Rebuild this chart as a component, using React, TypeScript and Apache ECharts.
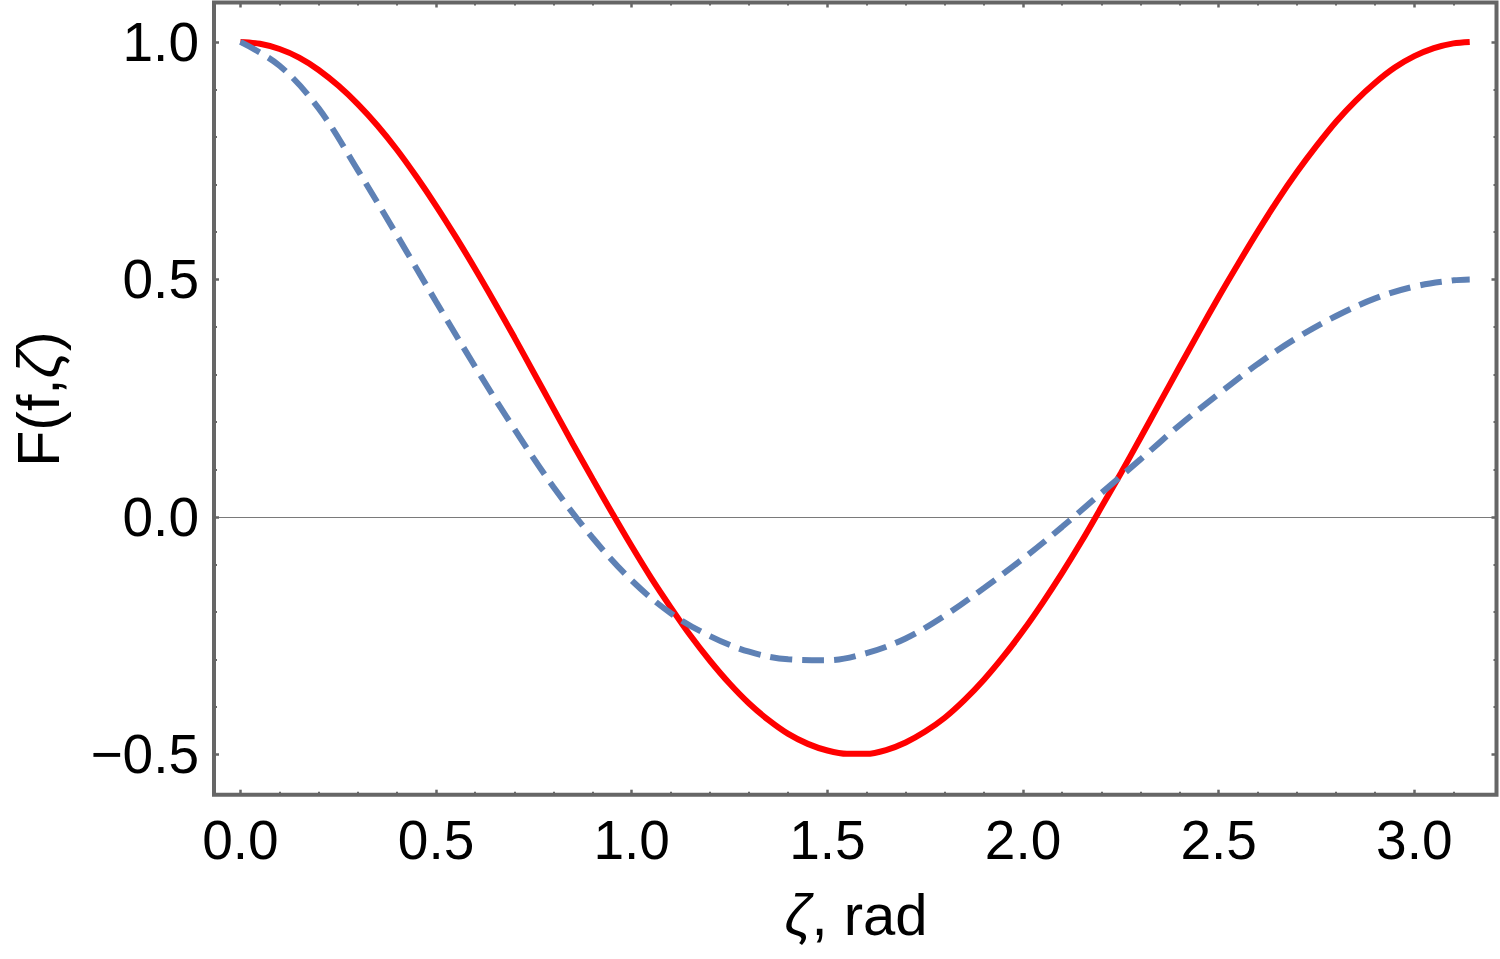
import React, { useEffect, useRef } from "react";
import * as echarts from "echarts";

// ζ sample positions (rad) for the red solid curve
const zetaRed = [
  0, 0.05, 0.1, 0.15, 0.2, 0.25, 0.3, 0.35, 0.4, 0.45, 0.5, 0.55, 0.6, 0.65, 0.7,
  0.75, 0.8, 0.85, 0.9, 0.95, 1.0, 1.05, 1.1, 1.15, 1.2, 1.25, 1.3, 1.35, 1.4,
  1.45, 1.5, 1.55, 1.6, 1.65, 1.7, 1.75, 1.8, 1.85, 1.9, 1.95, 2.0, 2.05, 2.1,
  2.15, 2.2, 2.25, 2.3, 2.35, 2.4, 2.45, 2.5, 2.55, 2.6, 2.65, 2.7, 2.75, 2.8,
  2.85, 2.9, 2.95, 3.0, 3.05, 3.1, 3.1416,
];

// red solid curve values
const redValues = [
  1.0, 0.996, 0.985, 0.967, 0.941, 0.908, 0.869, 0.824, 0.773, 0.716, 0.655,
  0.59, 0.522, 0.451, 0.378, 0.303, 0.228, 0.153, 0.08, 0.008, -0.062, -0.129,
  -0.191, -0.25, -0.303, -0.351, -0.393, -0.428, -0.457, -0.478, -0.492, -0.499,
  -0.499, -0.491, -0.475, -0.452, -0.423, -0.386, -0.343, -0.294, -0.24, -0.181,
  -0.118, -0.051, 0.02, 0.092, 0.166, 0.241, 0.316, 0.39, 0.463, 0.533, 0.601,
  0.666, 0.726, 0.781, 0.832, 0.876, 0.914, 0.946, 0.97, 0.987, 0.997, 1.0,
];

// ζ sample positions (rad) for the blue dashed curve
const zetaBlue = [
  0, 0.1, 0.2, 0.3, 0.4, 0.5, 0.6, 0.7, 0.8, 0.9, 1.0, 1.1, 1.2, 1.3, 1.4, 1.5,
  1.6, 1.7, 1.8, 1.9, 2.0, 2.1, 2.2, 2.3, 2.4, 2.5, 2.6, 2.7, 2.8, 2.9, 3.0, 3.1,
  3.1416,
];

// blue dashed curve values
const blueValues = [
  1.0, 0.95, 0.86, 0.73, 0.593, 0.453, 0.316, 0.185, 0.063, -0.044, -0.134,
  -0.203, -0.251, -0.284, -0.3, -0.302, -0.287, -0.256, -0.208, -0.15, -0.088,
  -0.021, 0.05, 0.121, 0.193, 0.259, 0.322, 0.377, 0.423, 0.46, 0.485, 0.498, 0.5,
];

const xMajorTicks = [0, 0.5, 1.0, 1.5, 2.0, 2.5, 3.0];
const xMinorTicks = [
  0.1, 0.2, 0.3, 0.4, 0.6, 0.7, 0.8, 0.9, 1.1, 1.2, 1.3, 1.4, 1.6, 1.7, 1.8, 1.9,
  2.1, 2.2, 2.3, 2.4, 2.6, 2.7, 2.8, 2.9, 3.1,
];
const yMajorTicks = [-0.5, 0, 0.5, 1.0];
const yMinorTicks = [
  -0.4, -0.3, -0.2, -0.1, 0.1, 0.2, 0.3, 0.4, 0.6, 0.7, 0.8, 0.9,
];
const zeroLine = [0];

const X_MIN = -0.0675;
const X_MAX = 3.21;
const Y_MIN = -0.585;
const Y_MAX = 1.083;

const FRAME = "#666666";
const FONT = "'Liberation Sans', Arial, Helvetica, sans-serif";

function fmt(v: number) {
  return (v < 0 ? "\u2212" : "") + Math.abs(v).toFixed(1);
}

function xAxisDef(position: string, ticks: number[], len: number, width: number, labels: boolean) {
  return {
    type: "value",
    position,
    min: X_MIN,
    max: X_MAX,
    axisLine: { show: false, onZero: false },
    splitLine: { show: false },
    axisTick: {
      show: true,
      inside: true,
      length: len,
      customValues: ticks,
      lineStyle: { color: FRAME, width },
    },
    axisLabel: labels
      ? {
          show: true,
          customValues: xMajorTicks,
          formatter: fmt,
          fontSize: 55,
          fontFamily: FONT,
          color: "#000",
          margin: 18,
        }
      : { show: false },
  };
}

function yAxisDef(position: string, ticks: number[], len: number, width: number, labels: boolean) {
  return {
    type: "value",
    position,
    min: Y_MIN,
    max: Y_MAX,
    axisLine: { show: false, onZero: false },
    splitLine: { show: false },
    axisTick: {
      show: true,
      inside: true,
      length: len,
      customValues: ticks,
      lineStyle: { color: FRAME, width },
    },
    axisLabel: labels
      ? {
          show: true,
          customValues: yMajorTicks,
          formatter: fmt,
          fontSize: 55,
          fontFamily: FONT,
          color: "#000",
          margin: 15,
        }
      : { show: false },
  };
}

export default function App() {
  const ref = useRef<HTMLDivElement>(null);

  useEffect(() => {
    document.body.style.margin = "0";
    if (!ref.current) return;
    const chart = echarts.init(ref.current, null, { renderer: "svg" });

    const redData = zetaRed.map((z, i) => [z, redValues[i]]);
    const blueData = zetaBlue.map((z, i) => [z, blueValues[i]]);

    chart.setOption({
      animation: false,
      backgroundColor: "#ffffff",
      grid: {
        left: 214,
        right: 3.5,
        top: 2.5,
        bottom: 164.3,
        show: true,
        borderColor: FRAME,
        borderWidth: 4,
        backgroundColor: "transparent",
      },
      xAxis: [
        xAxisDef("bottom", xMajorTicks, 5, 2.5, true),
        xAxisDef("bottom", xMinorTicks, 3, 2, false),
        xAxisDef("top", xMajorTicks, 5, 2.5, false),
        xAxisDef("top", xMinorTicks, 3, 2, false),
      ],
      yAxis: [
        yAxisDef("left", yMajorTicks, 5, 2.5, true),
        yAxisDef("left", yMinorTicks, 3, 2, false),
        yAxisDef("right", yMajorTicks, 5, 2.5, false),
        yAxisDef("right", yMinorTicks, 3, 2, false),
        {
          type: "value",
          position: "left",
          min: Y_MIN,
          max: Y_MAX,
          axisLine: { show: false, onZero: false },
          axisTick: { show: false, customValues: zeroLine },
          axisLabel: { show: false },
          splitLine: { show: true, lineStyle: { color: "#7a7a7a", width: 1 } },
        },
      ],
      series: [
        {
          type: "line",
          name: "red",
          xAxisIndex: 0,
          yAxisIndex: 0,
          data: redData,
          smooth: 0.3,
          showSymbol: false,
          symbol: "none",
          lineStyle: { color: "#ff0000", width: 6 },
          z: 3,
        },
        {
          type: "line",
          name: "blue",
          xAxisIndex: 0,
          yAxisIndex: 0,
          data: blueData,
          smooth: 0.35,
          showSymbol: false,
          symbol: "none",
          lineStyle: { color: "#5e81b5", width: 6, type: [22, 10], cap: "butt" },
          z: 4,
        },
      ],
      graphic: [
        {
          type: "text",
          x: 856,
          y: 914,
          style: {
            text: "{i|ζ}, rad",
            fontSize: 58,
            fontFamily: FONT,
            fill: "#000",
            align: "center",
            verticalAlign: "middle",
            rich: {
              i: { fontSize: 58, fontFamily: FONT, fontStyle: "italic", fill: "#000" },
            },
          },
        },
        {
          type: "text",
          x: 39,
          y: 399,
          rotation: Math.PI / 2,
          style: {
            text: "F(f,{i|ζ})",
            fontSize: 59,
            fontFamily: FONT,
            fill: "#000",
            align: "center",
            verticalAlign: "middle",
            rich: {
              i: { fontSize: 59, fontFamily: FONT, fontStyle: "italic", fill: "#000" },
            },
          },
        },
      ],
    });

    return () => chart.dispose();
  }, []);

  return (
    <div
      ref={ref}
      style={{ position: "absolute", left: 0, top: 0, width: 1500, height: 959, background: "#fff" }}
    />
  );
}
